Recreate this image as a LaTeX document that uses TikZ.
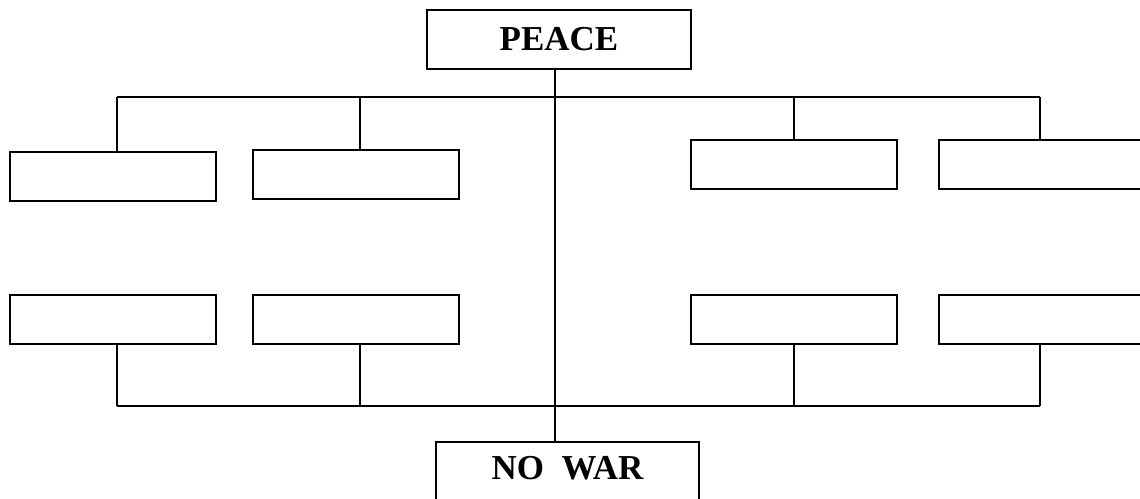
\documentclass[tikz,border=0pt]{standalone}
\usepackage{fontspec}
\setmainfont{Liberation Serif}
\tikzset{
  blank/.style={draw, line width=1.3pt, minimum width=206pt, minimum height=49pt, inner sep=0pt},
  title/.style={draw, line width=1.3pt, inner sep=0pt, font=\bfseries\fontsize{35}{40}\selectfont},
  link/.style={line width=1.3pt}
}
\begin{document}
\begin{tikzpicture}[x=1pt,y=-1pt]
      \useasboundingbox (0,0) rectangle (1140,498);
      \clip (0,0) rectangle (1140,498);
      % the two ends
      \node[title, minimum width=264pt, minimum height=59pt] (peace) at (559,39.5) {PEACE};
      \node[title, minimum width=263pt, minimum height=70pt, text height=23pt, text depth=18pt] (nowar) at (567.5,477) {NO\ \ WAR};
      % empty boxes
      \node[blank] (lt1) at (113,176.5) {};
      \node[blank] (lt2) at (356,174.5) {};
      \node[blank] (rt1) at (794,164.5) {};
      \node[blank] (rt2) at (1042,164.5) {};
      \node[blank] (lb1) at (113,319.5) {};
      \node[blank] (lb2) at (356,319.5) {};
      \node[blank] (rb1) at (794,319.5) {};
      \node[blank] (rb2) at (1042,319.5) {};
      % bars
      \coordinate (mid) at (555,0);
      \coordinate (t1) at (117,97);
      \coordinate (t2) at (360,97);
      \coordinate (t3) at (794,97);
      \coordinate (t4) at (1040,97);
      \coordinate (b1) at (117,406);
      \coordinate (b2) at (360,406);
      \coordinate (b3) at (794,406);
      \coordinate (b4) at (1040,406);
      \begin{scope}[link]
        \draw (mid |- peace.south) -- (mid |- nowar.north);
        \draw (t1) -- (t4);
        \draw (t1) -- (t1 |- lt1.north);
        \draw (t2) -- (t2 |- lt2.north);
        \draw (t3) -- (t3 |- rt1.north);
        \draw (t4) -- (t4 |- rt2.north);
        \draw (b1) -- (b4);
        \draw (b1) -- (b1 |- lb1.south);
        \draw (b2) -- (b2 |- lb2.south);
        \draw (b3) -- (b3 |- rb1.south);
        \draw (b4) -- (b4 |- rb2.south);
      \end{scope}
    \end{tikzpicture}
\end{document}
